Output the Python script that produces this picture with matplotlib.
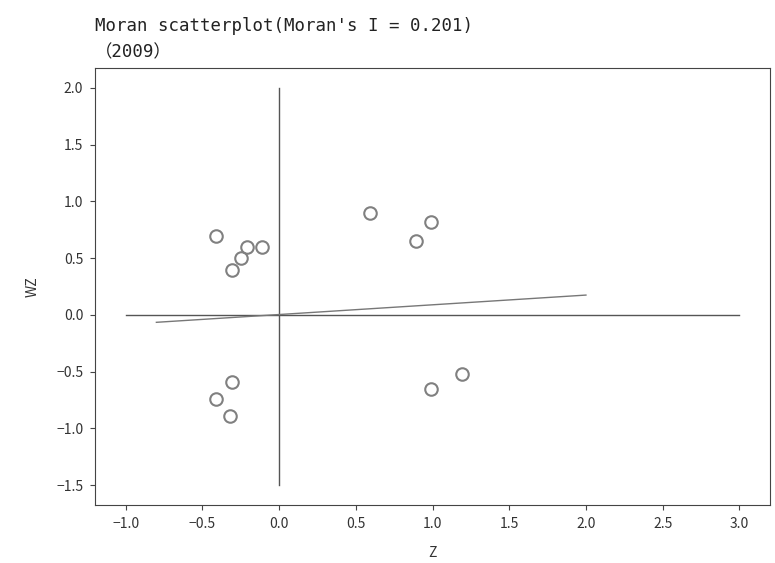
import numpy as np
import matplotlib
matplotlib.use("Agg")
import matplotlib.pyplot as plt

plt.rcParams['font.family'] = ['Noto Sans CJK SC', 'DejaVu Sans']

# Moran scatter points (Z, WZ)
z = [-0.41, -0.21, -0.11, -0.25, -0.31, 0.59, 0.99, 0.89, -0.31, -0.41, -0.32, 0.99, 1.19]
wz = [0.70, 0.60, 0.60, 0.50, 0.40, 0.90, 0.82, 0.65, -0.59, -0.74, -0.89, -0.65, -0.52]

# reference axes lines and fitted line
hline_x = [-1.0, 3.0]
hline_y = [0.0, 0.0]
vline_x = [0.0, 0.0]
vline_y = [-1.5, 2.0]
fit_x = [-0.8, 2.0]
fit_y = [-0.065, 0.175]

title = "Moran scatterplot(Moran's I = 0.201)\n（2009）"

fig = plt.figure(figsize=(7.75, 5.63), dpi=100)
ax = fig.add_axes([0.1226, 0.103, 0.871, 0.776])

ax.plot(hline_x, hline_y, color="#555555", lw=1)
ax.plot(vline_x, vline_y, color="#555555", lw=1)
ax.plot(fit_x, fit_y, color="#777777", lw=1)
ax.plot(z, wz, linestyle="none", marker="o", markersize=9,
        markerfacecolor="none", markeredgecolor="#808080", markeredgewidth=1.5)

ax.set_xticks(np.arange(-1.0, 3.01, 0.5))
ax.set_yticks(np.arange(-1.5, 2.01, 0.5))
ax.set_xlabel("Z", fontsize=10, labelpad=11, color="#333333")
ax.set_ylabel("WZ", fontsize=10, labelpad=12, color="#333333")
ax.tick_params(labelsize=10, color="#444444", labelcolor="#333333", pad=5)
for s in ax.spines.values():
    s.set_color("#444444")
t = ax.set_title(title, loc="left", fontsize=12.5, linespacing=1.6, pad=8,
                 family=['DejaVu Sans Mono', 'Noto Sans CJK SC'], color="#222222")
t.set_multialignment("left")

fig.savefig("out.png", dpi=100)
